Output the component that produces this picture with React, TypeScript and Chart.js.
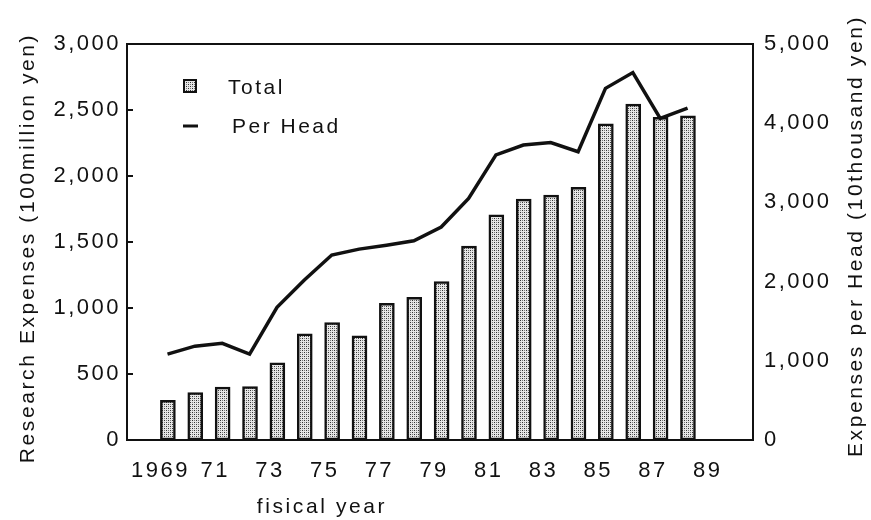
import React, { useEffect, useRef } from "react";
import { Chart, registerables } from "chart.js";

Chart.register(...registerables);

// ---------- data ----------
const years = [
  1969, 1970, 1971, 1972, 1973, 1974, 1975, 1976, 1977, 1978,
  1979, 1980, 1981, 1982, 1983, 1984, 1985, 1986, 1987, 1988,
];
// Research expenses, total (100 million yen) - left axis
const totalExpenses = [
  300, 360, 400, 405, 585, 805, 890, 790, 1035, 1080,
  1200, 1470, 1705, 1825, 1855, 1915, 2395, 2545, 2445, 2455,
];
// Expenses per head (10 thousand yen) - right axis
const perHeadExpenses = [
  1085, 1185, 1220, 1085, 1675, 2020, 2335, 2410, 2460, 2515,
  2690, 3050, 3600, 3725, 3755, 3640, 4440, 4640, 4060, 4190,
];
const xTickValues = [1969, 1971, 1973, 1975, 1977, 1979, 1981, 1983, 1985, 1987, 1989];
const xTickLabels = ["1969", "71", "73", "75", "77", "79", "81", "83", "85", "87", "89"];
const leftTickValues = [0, 500, 1000, 1500, 2000, 2500, 3000];
const rightTickValues = [0, 1000, 2000, 3000, 4000, 5000];

const leftTitle = "Research Expenses (100million yen)";
const rightTitle = "Expenses per Head (10thousand yen)";
const xTitle = "fisical year";
const legendTotal = "Total";
const legendPerHead = "Per Head";

// ---------- style ----------
const FONT = '"Liberation Sans", Arial, Helvetica, sans-serif';
const INK = "#111111";
const X_MIN = 1967.78;
const X_MAX = 1990.65;
const LINE_SHIFT = 0.26;

function makeStipple(): CanvasPattern | string {
  const c = document.createElement("canvas");
  c.width = 4;
  c.height = 4;
  const g = c.getContext("2d");
  if (!g) return "#bbbbbb";
  g.fillStyle = "#e6e6e6";
  g.fillRect(0, 0, 4, 4);
  g.fillStyle = "#333333";
  g.fillRect(0, 0, 1, 1);
  g.fillRect(2, 2, 1, 1);
  g.fillStyle = "#7a7a7a";
  g.fillRect(2, 0, 1, 1);
  g.fillRect(0, 2, 1, 1);
  return g.createPattern(c, "repeat") || "#bbbbbb";
}

function fmt(v: number): string {
  return v.toLocaleString("en-US");
}

export default function App() {
  const canvasRef = useRef<HTMLCanvasElement | null>(null);

  useEffect(() => {
    const canvas = canvasRef.current;
    if (!canvas) return;
    const stipple = makeStipple();

    const decor = {
      id: "decor",
      beforeLayout(chart: any) {
        chart.ctx.letterSpacing = "2.5px";
      },
      beforeDraw(chart: any) {
        const ctx = chart.ctx;
        ctx.save();
        ctx.fillStyle = "#ffffff";
        ctx.fillRect(0, 0, chart.width, chart.height);
        ctx.restore();
        ctx.letterSpacing = "2.5px";
      },
      afterDraw(chart: any) {
        const ctx = chart.ctx as CanvasRenderingContext2D;
        const a = chart.chartArea;
        const yS = chart.scales.y;
        ctx.save();
        ctx.strokeStyle = INK;
        ctx.lineWidth = 2;
        // top frame line
        ctx.beginPath();
        ctx.moveTo(a.left, a.top);
        ctx.lineTo(a.right, a.top);
        ctx.stroke();
        // inward tick marks on left axis
        for (const v of leftTickValues) {
          if (v === leftTickValues[0] || v === leftTickValues[leftTickValues.length - 1]) continue;
          const py = Math.round(yS.getPixelForValue(v));
          ctx.beginPath();
          ctx.moveTo(a.left, py);
          ctx.lineTo(a.left + 6, py);
          ctx.stroke();
        }

        ctx.fillStyle = INK;
        ctx.font = `21px ${FONT}`;
        (ctx as any).letterSpacing = "2.6px";
        ctx.textBaseline = "middle";
        ctx.textAlign = "center";

        // left axis title
        ctx.save();
        ctx.translate(28, 248);
        ctx.rotate(-Math.PI / 2);
        ctx.fillText(leftTitle, 0, 0);
        ctx.restore();

        // right axis title (reads bottom to top)
        ctx.save();
        ctx.translate(856, 236);
        ctx.rotate(-Math.PI / 2);
        ctx.fillText(rightTitle, 0, 0);
        ctx.restore();

        // x axis title
        ctx.fillText(xTitle, 322, 507);

        // legend
        (ctx as any).letterSpacing = "2.5px";
        ctx.textAlign = "left";
        ctx.fillStyle = stipple as any;
        ctx.fillRect(184, 80, 12, 12);
        ctx.lineWidth = 2;
        ctx.strokeRect(184, 80, 12, 12);
        ctx.fillStyle = INK;
        ctx.fillText(legendTotal, 228, 88);
        ctx.lineWidth = 3;
        ctx.beginPath();
        ctx.moveTo(183, 126);
        ctx.lineTo(198, 126);
        ctx.stroke();
        ctx.fillText(legendPerHead, 232, 127);
        ctx.restore();
      },
    };

    const tickFont = { family: FONT, size: 22 };

    const chart = new Chart(canvas, {
      data: {
        datasets: [
          {
            type: "line",
            label: legendPerHead,
            data: years.map((x, i) => ({ x, y: perHeadExpenses[i] })),
            xAxisID: "x2",
            yAxisID: "y1",
            borderColor: INK,
            borderWidth: 3.5,
            pointRadius: 0,
            tension: 0,
            fill: false,
            order: 0,
          },
          {
            type: "bar",
            label: legendTotal,
            data: years.map((x, i) => ({ x, y: totalExpenses[i] })),
            xAxisID: "x",
            yAxisID: "y",
            backgroundColor: stipple as any,
            borderColor: INK,
            borderWidth: 2.5,
            borderSkipped: false,
            barThickness: 15,
            order: 1,
          },
        ],
      } as any,
      options: {
        responsive: false,
        maintainAspectRatio: false,
        animation: false,
        layout: { padding: { top: 44, left: 0, right: 0, bottom: 0 } },
        plugins: {
          legend: { display: false },
          tooltip: { enabled: false },
          title: { display: false },
        },
        scales: {
          x: {
            type: "linear",
            position: "bottom",
            offset: false,
            min: X_MIN,
            max: X_MAX,
            afterBuildTicks: (s: any) => {
              s.ticks = xTickValues.map((v) => ({ value: v }));
            },
            afterFit: (s: any) => {
              s.height = 80;
            },
            grid: { display: false, drawTicks: false, offset: false },
            border: { display: true, color: INK, width: 2 },
            ticks: {
              font: tickFont,
              color: INK,
              padding: 18,
              maxRotation: 0,
              autoSkip: false,
              callback: (v: any) => {
                const i = xTickValues.indexOf(Number(v));
                return i >= 0 ? xTickLabels[i] : "";
              },
            },
          },
          x2: {
            type: "linear",
            display: false,
            offset: false,
            min: X_MIN - LINE_SHIFT,
            max: X_MAX - LINE_SHIFT,
          },
          y: {
            type: "linear",
            position: "left",
            min: 0,
            max: 3000,
            afterBuildTicks: (s: any) => {
              s.ticks = leftTickValues.map((v) => ({ value: v }));
            },
            afterFit: (s: any) => {
              s.width = 127;
            },
            grid: { display: false, drawTicks: false },
            border: { display: true, color: INK, width: 2 },
            ticks: {
              font: tickFont,
              color: INK,
              padding: 6,
              callback: (v: any) => fmt(Number(v)),
            },
          },
          y1: {
            type: "linear",
            position: "right",
            min: 0,
            max: 5000,
            afterBuildTicks: (s: any) => {
              s.ticks = rightTickValues.map((v) => ({ value: v }));
            },
            afterFit: (s: any) => {
              s.width = 118;
            },
            grid: { display: false, drawTicks: false },
            border: { display: true, color: INK, width: 2 },
            ticks: {
              font: tickFont,
              color: INK,
              padding: 11,
              callback: (v: any) => fmt(Number(v)),
            },
          },
        },
      } as any,
      plugins: [decor as any],
    });

    return () => {
      chart.destroy();
    };
  }, []);

  return (
    <div style={{ position: "absolute", left: 0, top: 0, width: 871, height: 520, background: "#fff" }}>
      <canvas ref={canvasRef} width={871} height={520} style={{ display: "block", width: 871, height: 520 }} />
    </div>
  );
}
